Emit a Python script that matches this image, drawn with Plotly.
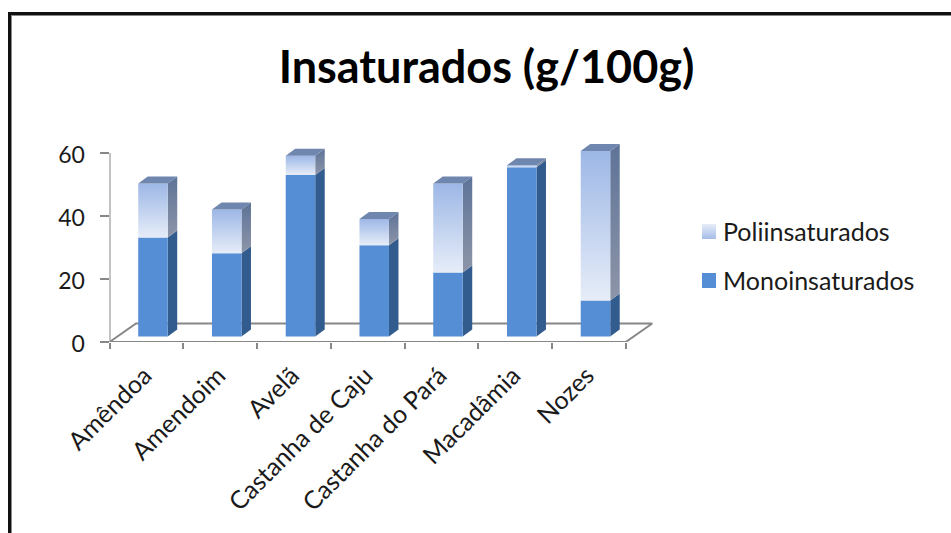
import plotly.graph_objects as go

categories = ["Amêndoa", "Amendoim", "Avelã", "Castanha de Caju",
              "Castanha do Pará", "Macadâmia", "Nozes"]
mono = [31.4, 26.4, 51.3, 29.0, 20.3, 53.7, 11.4]
poli = [17.2, 13.9, 6.1, 8.3, 28.3, 0.7, 47.5]
y_ticks = [0, 20, 40, 60]

W, H = 951, 533
PX_X = 73.75   # pixels per category
PX_Y = 3.15    # pixels per unit of value
LEFT, RIGHT, BOTTOM, TOP = 109.5, 660, 342, 130

# Oblique projection used for the pseudo-3D look
DEPTH_X = 9.5 / PX_X
DEPTH_Y = 7 / PX_Y
BAR_W = 29.5 / PX_X
BAR_SHIFT_X = 6.6 / PX_X
BAR_BASE = 5.5 / PX_Y
FLOOR_X = 26.5 / PX_X
FLOOR_Y = 18.5 / PX_Y
X0, X1 = -0.5, 6.5

FONT = "Lato, Carlito, Calibri, sans-serif"
AXIS = "#878787"
INK = "#1a1a1a"
MONO_FRONT, MONO_SIDE = "#558ed5", "#335c8e"
POLI_FRONT = ["#e6edf8", "#9db7e6"]
POLI_SIDE = ["#8d95a8", "#5e7398"]
CAP = "#6f86ae"


def grad(pair):
    return dict(type="vertical", colorscale=[[0, pair[0]], [1, pair[1]]])


def face(xs, ys, color=None, gradient=None, xaxis="x", yaxis="y"):
    kw = dict(fillgradient=gradient) if gradient else dict(fillcolor=color)
    return go.Scatter(x=xs + xs[:1], y=ys + ys[:1], mode="lines", fill="toself",
                      line=dict(width=0), hoverinfo="skip", showlegend=False,
                      xaxis=xaxis, yaxis=yaxis, **kw)


def stroke(xs, ys):
    return go.Scatter(x=xs, y=ys, mode="lines", hoverinfo="skip", showlegend=False,
                      line=dict(color=AXIS, width=2))


fig = go.Figure()

# Floor of the chart and the value axis
fig.add_trace(stroke(
    [X0, X0 + FLOOR_X, X1 + FLOOR_X, X1, X0],
    [0, FLOOR_Y, FLOOR_Y, 0, 0]))
fig.add_trace(stroke([X0, X0], [0, 60]))

# Stacked columns: front, side and top of each segment
for i, (m, p) in enumerate(zip(mono, poli)):
    l = i + BAR_SHIFT_X - BAR_W / 2
    r = l + BAR_W
    b = BAR_BASE
    mid = b + m
    top = mid + p
    fig.add_trace(face([r, r + DEPTH_X, r + DEPTH_X, r],
                       [b, b + DEPTH_Y, mid + DEPTH_Y, mid], MONO_SIDE))
    fig.add_trace(face([l, r, r, l], [b, b, mid, mid], MONO_FRONT))
    fig.add_trace(face([r, r + DEPTH_X, r + DEPTH_X, r],
                       [mid, mid + DEPTH_Y, top + DEPTH_Y, top],
                       gradient=grad(POLI_SIDE)))
    fig.add_trace(face([l, r, r, l], [mid, mid, top, top], gradient=grad(POLI_FRONT)))
    fig.add_trace(face([l, r, r + DEPTH_X, l + DEPTH_X],
                       [top, top, top + DEPTH_Y, top + DEPTH_Y], CAP))

# Legend keys on a second full-page subplot measured in pixels
for y_top, kw in ((224, dict(gradient=dict(type="vertical", colorscale=[[0, "#a5bce8"], [1, "#e6edf8"]]))),
                  (273, dict(color=MONO_FRONT))):
    fig.add_trace(face([702, 716, 716, 702], [y_top, y_top, y_top + 15, y_top + 15],
                       xaxis="x2", yaxis="y2", **kw))

annotations = [
    dict(x=721, y=231, xref="x2", yref="y2", text="Poliinsaturados",
         xanchor="left", yanchor="middle", showarrow=False,
         font=dict(family=FONT, size=25, color=INK)),
    dict(x=721, y=280, xref="x2", yref="y2", text="Monoinsaturados",
         xanchor="left", yanchor="middle", showarrow=False,
         font=dict(family=FONT, size=25, color=INK)),
]

# Heavy frame running off the right and bottom of the page
shapes = [
    dict(type="line", xref="paper", yref="paper", x0=9.5 / W, x1=9.5 / W, y0=0,
         y1=1 - 12 / H, line=dict(color="#111111", width=3)),
    dict(type="line", xref="paper", yref="paper", x0=8 / W, x1=1, y0=1 - 13.5 / H,
         y1=1 - 13.5 / H, line=dict(color="#111111", width=3)),
    dict(type="line", xref="paper", yref="paper", x0=11.5 / W, x1=11.5 / W, y0=0,
         y1=1 - 15 / H, line=dict(color="#8a8a8a", width=1)),
    dict(type="line", xref="paper", yref="paper", x0=11 / W, x1=1, y0=1 - 15.5 / H,
         y1=1 - 15.5 / H, line=dict(color="#8a8a8a", width=1)),
]

fig.update_layout(
    width=W, height=H, autosize=False,
    margin=dict(l=0, r=0, t=0, b=0, autoexpand=False),
    paper_bgcolor="white", plot_bgcolor="rgba(0,0,0,0)",
    showlegend=False,
    title=dict(text="<b>Insaturados (g/100g)</b>", x=486.5 / W, y=1 - 67 / H,
               xanchor="center", yanchor="middle", automargin=False,
               font=dict(family=FONT, size=45, color="#000000")),
    xaxis=dict(domain=[LEFT / W, RIGHT / W], automargin=False,
               range=[X0, X0 + (RIGHT - LEFT) / PX_X],
               tickmode="array", tickvals=list(range(len(categories))),
               ticktext=categories, tickangle=-45, ticks="", showgrid=False,
               showline=False, zeroline=False, ticklabelstandoff=13,
               ticklabelshift=-2,
               tickfont=dict(family=FONT, size=25, color=INK),
               minor=dict(tickmode="array", ticks="outside", ticklen=6, tickwidth=2,
                          tickcolor=AXIS, showgrid=False,
                          tickvals=[j - 0.5 for j in range(len(categories) + 1)])),
    yaxis=dict(domain=[1 - BOTTOM / H, 1 - TOP / H], automargin=False,
               range=[0, (BOTTOM - TOP) / PX_Y],
               tickmode="array", tickvals=y_ticks, ticks="outside", ticklen=9,
               tickwidth=2, tickcolor=AXIS, showgrid=False, showline=False,
               zeroline=False, ticklabelstandoff=10, ticklabelshift=2,
               tickfont=dict(family=FONT, size=23, color=INK)),
    xaxis2=dict(domain=[0, 1], range=[0, W], visible=False, anchor="y2"),
    yaxis2=dict(domain=[0, 1], range=[H, 0], visible=False, anchor="x2"),
    annotations=annotations,
    shapes=shapes,
)

fig.write_html("out.html")
